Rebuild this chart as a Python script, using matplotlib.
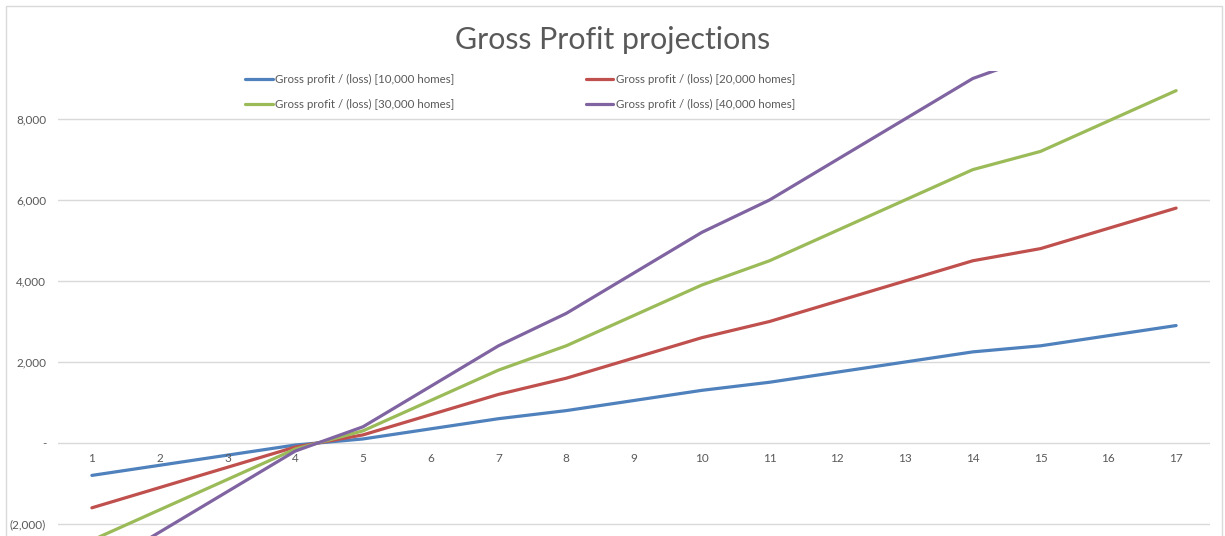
import matplotlib
matplotlib.use("Agg")
import matplotlib.pyplot as plt
from matplotlib.patches import Rectangle
from matplotlib.ticker import FuncFormatter

plt.rcParams["font.family"] = ["Lato", "DejaVu Sans"]

# periods on the category axis
periods = list(range(1, 18))

# gross profit / (loss) per scenario
gp_10k = [-800, -550, -300, -50, 100, 350, 600, 800, 1050, 1300, 1500, 1750, 2000, 2250, 2400, 2650, 2900]
gp_20k = [-1600, -1100, -600, -100, 200, 700, 1200, 1600, 2100, 2600, 3000, 3500, 4000, 4500, 4800, 5300, 5800]
gp_30k = [-2400, -1650, -900, -150, 300, 1050, 1800, 2400, 3150, 3900, 4500, 5250, 6000, 6750, 7200, 7950, 8700]
gp_40k = [-3200, -2200, -1200, -200, 400, 1400, 2400, 3200, 4200, 5200, 6000, 7000, 8000, 9000, 9600, 10600, 11600]

labels = ["Gross profit / (loss) [10,000 homes]", "Gross profit / (loss) [20,000 homes]",
          "Gross profit / (loss) [30,000 homes]", "Gross profit / (loss) [40,000 homes]"]
colors = ["#4F81BD", "#C0504D", "#9BBB59", "#8064A2"]

y_ticks = [-2000, 0, 2000, 4000, 6000, 8000]

TXT = "#595959"
GRID = "#D9D9D9"

W, H = 1225, 536
fig = plt.figure(figsize=(W / 100, H / 100), dpi=100)
ax = fig.add_axes([58 / W, 0, (1210 - 58) / W, 1 - 71 / H])

series = [gp_10k, gp_20k, gp_30k, gp_40k]
handles = []
for vals, lab, c in zip(series, labels, colors):
    h, = ax.plot(periods, vals, color=c, lw=2.3, label=lab, solid_capstyle="round", zorder=3)
    handles.append(h)

ax.set_xlim(0.5, 17.5)
ax.set_ylim(-2296, 9185)
ax.set_yticks(y_ticks)
ax.grid(axis="y", color=GRID, lw=1)
ax.set_axisbelow(True)
for s in ax.spines.values():
    s.set_visible(False)


def acct(v, _pos):
    if v == 0:
        return "-"
    if v < 0:
        return f"({abs(v):,.0f})"
    return f"{v:,.0f}"


ax.yaxis.set_major_formatter(FuncFormatter(acct))
ax.tick_params(axis="y", length=0, pad=8.5, labelsize=8.5, labelcolor=TXT)

# category labels sit just under the zero line
ax.set_xticks([])
for p in periods:
    ax.text(p, -250, str(p), ha="center", va="top", fontsize=8.5, color=TXT)

fig.text(0.5, 1 - 40 / H, "Gross Profit projections", ha="center", va="center",
         fontsize=21.8, color=TXT)

# legend is filled row by row in the reference
order = [0, 2, 1, 3]
fig.legend(handles=[handles[i] for i in order], loc="center", bbox_to_anchor=(520 / W, 1 - 92 / H),
           ncol=2, frameon=False, fontsize=8.3, labelcolor=TXT, handlelength=2.4,
           handletextpad=0.2, columnspacing=11.4, labelspacing=1.15)

# chart area border
fig.patches.append(Rectangle((5.5 / W, -0.1), (1216.5) / W, 1.1 - 6 / H, transform=fig.transFigure,
                             fill=False, edgecolor=GRID, lw=1))

fig.savefig("out.png", dpi=100)
